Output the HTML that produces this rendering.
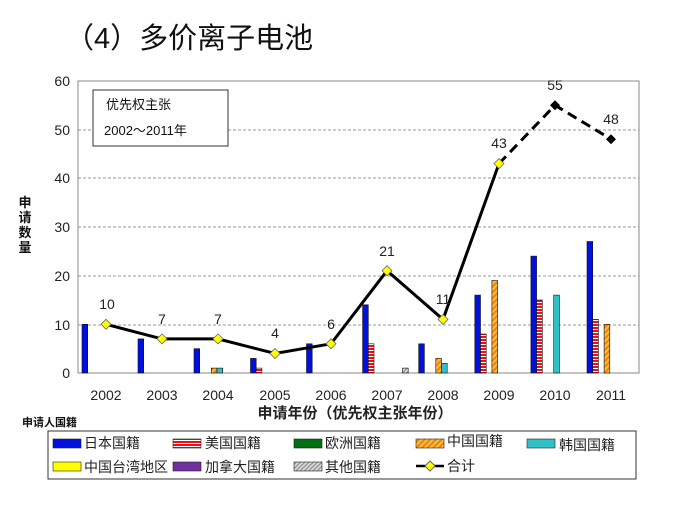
<!DOCTYPE html><html><head><meta charset="utf-8"><style>body{margin:0;background:#fff;width:700px;height:500px;overflow:hidden}svg text{font-family:"Liberation Sans","Noto Sans CJK SC",sans-serif}</style></head><body>
<svg width="700" height="500" xmlns="http://www.w3.org/2000/svg">
<defs>
<pattern id="us" width="4" height="3" patternUnits="userSpaceOnUse"><rect width="4" height="3" fill="#e8101c"/><rect y="2" width="4" height="1" fill="#fff"/></pattern>
<pattern id="cn" width="4" height="4" patternUnits="userSpaceOnUse" patternTransform="rotate(45)"><rect width="4" height="4" fill="#f08010"/><rect width="2" height="4" fill="#f8c040"/></pattern>
<pattern id="ot" width="3" height="3" patternUnits="userSpaceOnUse" patternTransform="rotate(45)"><rect width="3" height="3" fill="#999"/><rect width="1.5" height="3" fill="#ddd"/></pattern>
</defs>
<text x="65" y="48" font-size="29" fill="#111">（4）多价离子电池</text>
<g stroke="#999" stroke-dasharray="3,2" stroke-width="1">
<line x1="78" x2="639" y1="325" y2="325"/><line x1="78" x2="639" y1="276" y2="276"/><line x1="78" x2="639" y1="227" y2="227"/><line x1="78" x2="639" y1="178" y2="178"/><line x1="78" x2="639" y1="130" y2="130"/><line x1="78" x2="639" y1="81" y2="81"/>
</g>
<rect x="78" y="81" width="561" height="292" fill="none" stroke="#888"/>
<g font-size="14" fill="#222" text-anchor="end">
<text x="70" y="378">0</text><text x="70" y="330">10</text><text x="70" y="281">20</text><text x="70" y="232">30</text><text x="70" y="183">40</text><text x="70" y="135">50</text><text x="70" y="86">60</text></g>
<g font-size="14" fill="#222" text-anchor="middle">
<text x="106" y="400">2002</text><text x="162" y="400">2003</text><text x="218" y="400">2004</text><text x="275" y="400">2005</text><text x="331" y="400">2006</text><text x="387" y="400">2007</text><text x="443" y="400">2008</text><text x="499" y="400">2009</text><text x="555" y="400">2010</text><text x="611" y="400">2011</text></g>
<g stroke="#111" stroke-width="0.6">
<rect x="82" y="324.3" width="5.7" height="48.7" fill="#0010e0"/>
<rect x="138" y="338.9" width="5.7" height="34.1" fill="#0010e0"/>
<rect x="194" y="348.7" width="5.7" height="24.3" fill="#0010e0"/>
<rect x="211.3" y="368.1" width="5.7" height="4.9" fill="url(#cn)"/>
<rect x="217" y="368.1" width="5.7" height="4.9" fill="#30c0c8"/>
<rect x="250.5" y="358.4" width="5.7" height="14.6" fill="#0010e0"/>
<rect x="256.2" y="368.1" width="5.7" height="4.9" fill="url(#us)"/>
<rect x="306.5" y="343.8" width="5.7" height="29.2" fill="#0010e0"/>
<rect x="362.6" y="304.8" width="5.7" height="68.2" fill="#0010e0"/>
<rect x="368.3" y="343.8" width="5.7" height="29.2" fill="url(#us)"/>
<rect x="402.5" y="368.1" width="5.7" height="4.9" fill="url(#ot)"/>
<rect x="418.7" y="343.8" width="5.7" height="29.2" fill="#0010e0"/>
<rect x="435.8" y="358.4" width="5.7" height="14.6" fill="url(#cn)"/>
<rect x="441.5" y="363.3" width="5.7" height="9.7" fill="#30c0c8"/>
<rect x="474.8" y="295.1" width="5.7" height="77.9" fill="#0010e0"/>
<rect x="480.5" y="334" width="5.7" height="39" fill="url(#us)"/>
<rect x="491.9" y="280.5" width="5.7" height="92.5" fill="url(#cn)"/>
<rect x="530.9" y="256.1" width="5.7" height="116.9" fill="#0010e0"/>
<rect x="536.6" y="300" width="5.7" height="73" fill="url(#us)"/>
<rect x="553.7" y="295.1" width="5.7" height="77.9" fill="#30c0c8"/>
<rect x="587" y="241.5" width="5.7" height="131.5" fill="#0010e0"/>
<rect x="592.7" y="319.4" width="5.7" height="53.6" fill="url(#us)"/>
<rect x="604.1" y="324.3" width="5.7" height="48.7" fill="url(#cn)"/>
</g>
<polyline points="106,324.3 162,338.9 218,338.9 275,353.5 331,343.8 387,270.7 443,319.4 499,163.6" fill="none" stroke="#000" stroke-width="3"/>
<polyline points="499,163.6 555,105.2 611,139.2" fill="none" stroke="#000" stroke-width="3" stroke-dasharray="10,6"/>
<g fill="#ffff00" stroke="#666" stroke-width="0.8">
<path d="M106 319.3l5 5-5 5-5-5z"/><path d="M162 333.9l5 5-5 5-5-5z"/><path d="M218 333.9l5 5-5 5-5-5z"/><path d="M275 348.5l5 5-5 5-5-5z"/><path d="M331 338.8l5 5-5 5-5-5z"/><path d="M387 265.7l5 5-5 5-5-5z"/><path d="M443 314.4l5 5-5 5-5-5z"/><path d="M499 158.6l5 5-5 5-5-5z"/></g>
<g fill="#000"><path d="M555 100.2l5 5-5 5-5-5z"/><path d="M611 134.2l5 5-5 5-5-5z"/></g>
<g font-size="14" fill="#222" text-anchor="middle">
<text x="107" y="309">10</text><text x="162" y="324">7</text><text x="218" y="324">7</text><text x="275" y="338">4</text><text x="331" y="329">6</text><text x="387" y="256">21</text><text x="443" y="304">11</text><text x="499" y="148">43</text><text x="555" y="90">55</text><text x="611" y="124">48</text></g>
<rect x="93" y="90" width="135" height="56" fill="#fff" stroke="#333"/>
<text x="106" y="109" font-size="13" fill="#111">优先权主张</text>
<text x="104" y="135" font-size="13" fill="#111">2002～2011年</text>
<g font-size="13" font-weight="bold" fill="#111" text-anchor="middle">
<text x="25" y="207">申</text><text x="25" y="222">请</text><text x="25" y="237">数</text><text x="25" y="252">量</text></g>
<text x="355" y="418" font-size="15" font-weight="bold" fill="#222" text-anchor="middle">申请年份（优先权主张年份）</text>
<text x="22" y="426" font-size="11" font-weight="bold" fill="#111">申请人国籍</text>
<rect x="48" y="431" width="588" height="48" fill="#fff" stroke="#333"/>
<g stroke="#222" stroke-width="0.6">
<rect x="53" y="439" width="28" height="9" fill="#0010e0"/>
<rect x="173" y="439" width="28" height="9" fill="url(#us)"/>
<rect x="294" y="439" width="28" height="9" fill="#007010"/>
<rect x="416" y="439" width="28" height="9" fill="url(#cn)"/>
<rect x="527" y="439" width="28" height="9" fill="#30c0c8"/>
<rect x="53" y="462" width="28" height="9" fill="#ffff00"/>
<rect x="173" y="462" width="28" height="9" fill="#7030a0"/>
<rect x="294" y="462" width="28" height="9" fill="url(#ot)"/></g>
<line x1="416" x2="444" y1="466" y2="466" stroke="#000" stroke-width="2.5"/><path d="M430 461l5 5-5 5-5-5z" fill="#ffff00" stroke="#666"/>
<g font-size="14" fill="#222">
<text x="84" y="448">日本国籍</text><text x="205" y="448">美国国籍</text><text x="325" y="448">欧洲国籍</text><text x="447" y="446">中国国籍</text><text x="559" y="450">韩国国籍</text>
<text x="84" y="472">中国台湾地区</text><text x="205" y="472">加拿大国籍</text><text x="325" y="472">其他国籍</text><text x="447" y="471">合计</text></g>
</svg></body></html>
